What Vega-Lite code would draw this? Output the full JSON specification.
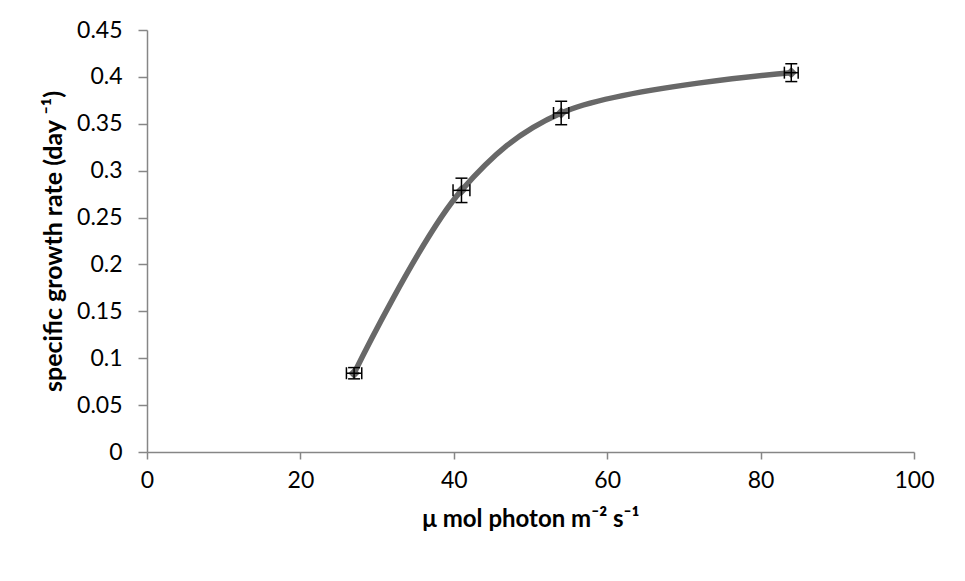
{
  "$schema": "https://vega.github.io/schema/vega-lite/v6.json",
  "width": 767,
  "height": 422,
  "autosize": {"type": "none"},
  "padding": {"left": 147, "top": 30, "right": 51, "bottom": 129},
  "background": "white",
  "config": {
    "view": {"stroke": null},
    "font": "Lato"
  },
  "data": {
    "values": [
      {"light": 27, "rate": 0.084, "rateLo": 0.078, "rateHi": 0.090, "lightLo": 26, "lightHi": 28},
      {"light": 41, "rate": 0.279, "rateLo": 0.266, "rateHi": 0.292, "lightLo": 39.9, "lightHi": 42.1},
      {"light": 54, "rate": 0.3615, "rateLo": 0.349, "rateHi": 0.374, "lightLo": 53, "lightHi": 55},
      {"light": 84, "rate": 0.4045, "rateLo": 0.395, "rateHi": 0.414, "lightLo": 83.1, "lightHi": 84.9}
    ]
  },
  "encoding": {
    "x": {
      "field": "light", "type": "quantitative",
      "scale": {"domain": [0, 100], "nice": false, "zero": false},
      "axis": {
        "values": [0, 20, 40, 60, 80, 100],
        "title": "μ mol photon m⁻² s⁻¹",
        "grid": false,
        "labelFlush": false,
        "domainColor": "#868686", "domainWidth": 1.5,
        "tickColor": "#868686", "tickWidth": 1.5, "tickSize": 7,
        "labelFontSize": 23, "labelColor": "#000000", "labelPadding": 10, "labelFont": "Lato",
        "titleFontSize": 24, "titleFont": "Lato", "titleFontWeight": "bold", "titleColor": "#000000", "titlePadding": 15
      }
    },
    "y": {
      "field": "rate", "type": "quantitative",
      "scale": {"domain": [0, 0.45], "nice": false, "zero": false},
      "axis": {
        "values": [0, 0.05, 0.1, 0.15, 0.2, 0.25, 0.3, 0.35, 0.4, 0.45],
        "format": "~g",
        "title": "specific growth rate (day ⁻¹)",
        "grid": false,
        "labelFlush": false,
        "domainColor": "#868686", "domainWidth": 1.5,
        "tickColor": "#868686", "tickWidth": 1.5, "tickSize": 9,
        "labelFontSize": 23, "labelColor": "#000000", "labelPadding": 16, "labelFont": "Lato",
        "titleFontSize": 25, "titleFont": "Lato", "titleFontWeight": "bold", "titleColor": "#000000", "titlePadding": 10
      }
    }
  },
  "layer": [
    {
      "mark": {"type": "line", "interpolate": "catmull-rom", "color": "#686868", "strokeWidth": 5.5}
    },
    {
      "mark": {"type": "point", "shape": "diamond", "filled": true, "size": 130, "color": "#686868", "opacity": 1}
    },
    {
      "mark": {"type": "rule", "color": "#000000", "strokeWidth": 1.5},
      "encoding": {"y": {"field": "rateLo", "type": "quantitative"}, "y2": {"field": "rateHi"}}
    },
    {
      "mark": {"type": "rule", "color": "#000000", "strokeWidth": 1.5},
      "encoding": {"x": {"field": "lightLo", "type": "quantitative"}, "x2": {"field": "lightHi"}}
    },
    {
      "mark": {"type": "tick", "orient": "horizontal", "color": "#000000", "thickness": 1.5, "size": 12, "opacity": 1},
      "encoding": {"y": {"field": "rateLo", "type": "quantitative"}}
    },
    {
      "mark": {"type": "tick", "orient": "horizontal", "color": "#000000", "thickness": 1.5, "size": 12, "opacity": 1},
      "encoding": {"y": {"field": "rateHi", "type": "quantitative"}}
    },
    {
      "mark": {"type": "tick", "orient": "vertical", "color": "#000000", "thickness": 1.5, "size": 12, "opacity": 1},
      "encoding": {"x": {"field": "lightLo", "type": "quantitative"}}
    },
    {
      "mark": {"type": "tick", "orient": "vertical", "color": "#000000", "thickness": 1.5, "size": 12, "opacity": 1},
      "encoding": {"x": {"field": "lightHi", "type": "quantitative"}}
    }
  ]
}
